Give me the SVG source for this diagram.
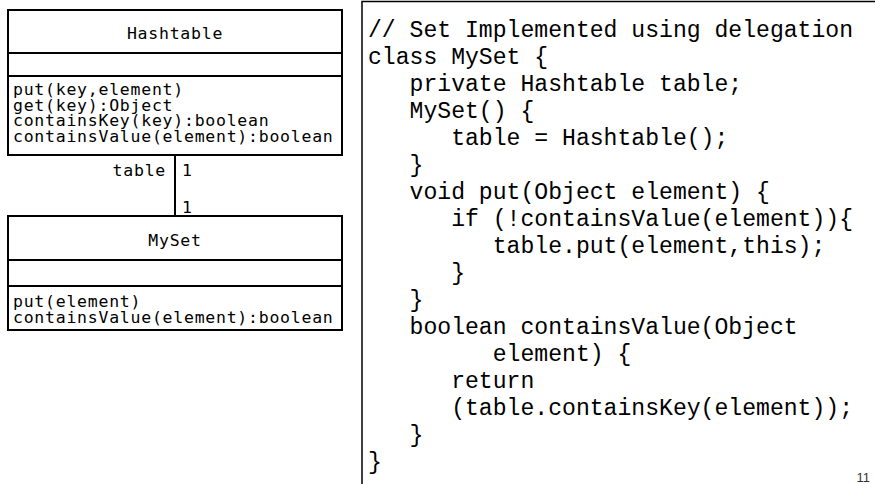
<svg xmlns="http://www.w3.org/2000/svg" width="875" height="484" viewBox="0 0 875 484">
  <style>
    .box { fill: #ffffff; stroke: #000000; stroke-width: 2; }
    .sep { stroke: #000000; stroke-width: 2; fill: none; }
    .uml { font-family: "DejaVu Sans Mono", "Liberation Mono", monospace; font-size: 16.5px; letter-spacing: 0.75px; fill: #000000; }
    .name { text-anchor: middle; }
    .code { font-family: "Liberation Mono", "Courier New", monospace; font-size: 23.1px; fill: #000000; white-space: pre; }
    .frame { fill: none; stroke: #000000; stroke-width: 1.5; }
    .pageno { font-family: "Liberation Sans", Arial, sans-serif; font-size: 13px; fill: #333333; text-anchor: end; }
  </style>

  <rect width="875" height="484" fill="#ffffff"/>

  <!-- association between the two classes -->
  <g id="connectors">
    <line class="sep" x1="175" y1="155" x2="175" y2="216"/>
    <text class="uml" x="166" y="176" text-anchor="end">table</text>
    <text class="uml" x="182" y="176">1</text>
    <text class="uml" x="182" y="213">1</text>
  </g>

  <!-- class Hashtable -->
  <g id="hashtable">
    <rect class="box" x="8" y="10" width="334" height="145"/>
    <line class="sep" x1="8" y1="53" x2="342" y2="53"/>
    <line class="sep" x1="8" y1="76" x2="342" y2="76"/>
    <text class="uml name" x="175" y="38.5">Hashtable</text>
    <text class="uml" x="13" y="95">put(key,element)<tspan x="13" dy="15.7">get(key):Object</tspan><tspan x="13" dy="15.7">containsKey(key):boolean</tspan><tspan x="13" dy="15.7">containsValue(element):boolean</tspan></text>
  </g>

  <!-- class MySet -->
  <g id="myset">
    <rect class="box" x="8" y="216" width="334" height="114"/>
    <line class="sep" x1="8" y1="260" x2="342" y2="260"/>
    <line class="sep" x1="8" y1="286" x2="342" y2="286"/>
    <text class="uml name" x="175" y="245.5">MySet</text>
    <text class="uml" x="13" y="307">put(element)<tspan x="13" dy="16">containsValue(element):boolean</tspan></text>
  </g>

  <!-- source listing -->
  <g id="code">
    <path class="frame" d="M362 484 V1.5 H876"/>
    <text class="code" x="368" y="37">// Set Implemented using delegation</text>
    <text class="code" x="368" y="64">class MySet {</text>
    <text class="code" x="368" y="91">   private Hashtable table;</text>
    <text class="code" x="368" y="118">   MySet() {</text>
    <text class="code" x="368" y="145">      table = Hashtable();</text>
    <text class="code" x="368" y="172">   }</text>
    <text class="code" x="368" y="199">   void put(Object element) {</text>
    <text class="code" x="368" y="226">      if (!containsValue(element)){</text>
    <text class="code" x="368" y="253">         table.put(element,this);</text>
    <text class="code" x="368" y="280">      }</text>
    <text class="code" x="368" y="307">   }</text>
    <text class="code" x="368" y="334">   boolean containsValue(Object</text>
    <text class="code" x="368" y="361">         element) {</text>
    <text class="code" x="368" y="388">      return</text>
    <text class="code" x="368" y="415">      (table.containsKey(element));</text>
    <text class="code" x="368" y="442">   }</text>
    <text class="code" x="368" y="469">}</text>
  </g>

  <text class="pageno" x="870" y="482">11</text>
</svg>
